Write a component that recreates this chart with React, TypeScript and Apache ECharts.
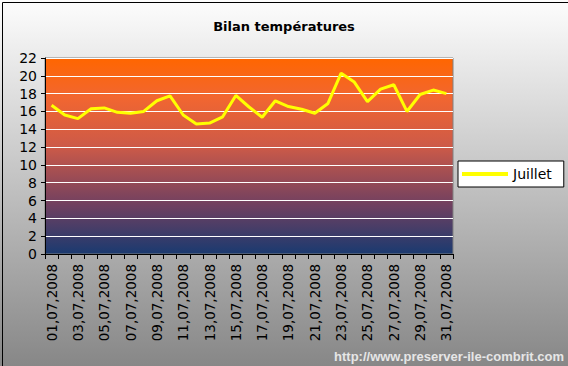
import React, { useEffect, useRef } from "react";
import * as echarts from "echarts";

const days: string[] = [
  "01,07,2008","02,07,2008","03,07,2008","04,07,2008","05,07,2008","06,07,2008","07,07,2008","08,07,2008",
  "09,07,2008","10,07,2008","11,07,2008","12,07,2008","13,07,2008","14,07,2008","15,07,2008","16,07,2008",
  "17,07,2008","18,07,2008","19,07,2008","20,07,2008","21,07,2008","22,07,2008","23,07,2008","24,07,2008",
  "25,07,2008","26,07,2008","27,07,2008","28,07,2008","29,07,2008","30,07,2008","31,07,2008",
];
const juillet: number[] = [
  16.7, 15.6, 15.2, 16.3, 16.4, 15.9, 15.8, 16.0, 17.2, 17.75, 15.6, 14.6, 14.7, 15.4, 17.8, 16.5,
  15.35, 17.2, 16.55, 16.25, 15.8, 16.9, 20.3, 19.3, 17.1, 18.5, 19.0, 16.0, 17.9, 18.4, 18.0,
];
const title = "Bilan températures";
const seriesName = "Juillet";
const watermark = "http://www.preserver-ile-combrit.com";

export default function App() {
  const ref = useRef<HTMLDivElement>(null);
  useEffect(() => {
    document.body.style.margin = "0";
    const chart = echarts.init(ref.current!, null, { renderer: "svg" });
    const font = "DejaVu Sans";
    chart.setOption({
      animation: false,
      backgroundColor: new echarts.graphic.LinearGradient(0, 0, 0, 1, [
        { offset: 0, color: "#fdfdfd" },
        { offset: 1, color: "#878787" },
      ]),
      title: {
        text: title,
        left: "center",
        top: 15,
        textStyle: { fontFamily: font, fontSize: 13, fontWeight: "bold", color: "#000" },
      },
      grid: {
        left: 45,
        right: 115,
        top: 58,
        bottom: 112,
        show: true,
        borderColor: "#808080",
        borderWidth: 1,
        backgroundColor: new echarts.graphic.LinearGradient(0, 0, 0, 1, [
          { offset: 0, color: "#ff6600" },
          { offset: 0.2, color: "#f26630" },
          { offset: 0.45, color: "#cd5a48" },
          { offset: 0.75, color: "#704060" },
          { offset: 1, color: "#1a3a70" },
        ]),
      },
      legend: {
        left: 458,
        top: 161,
        backgroundColor: "#ffffff",
        borderColor: "#000",
        borderWidth: 1,
        borderRadius: 0,
        padding: [6, 12, 6, 4],
        itemWidth: 46,
        itemHeight: 4,
        itemGap: 5,
        icon: "rect",
        textStyle: { fontFamily: font, fontSize: 14, color: "#000" },
        data: [{ name: seriesName, itemStyle: { color: "#ffff00" } }],
      },
      xAxis: {
        type: "category",
        data: days,
        boundaryGap: true,
        axisLine: { lineStyle: { color: "#000", width: 1 } },
        axisTick: { show: true, interval: 0, length: 5, lineStyle: { color: "#000" } },
        axisLabel: {
          interval: 1,
          rotate: 90,
          margin: 10,
          fontFamily: font,
          fontSize: 13.5,
          color: "#000",
        },
        splitLine: { show: false },
      },
      yAxis: {
        type: "value",
        min: 0,
        max: 22,
        interval: 2,
        axisLine: { show: true, lineStyle: { color: "#000", width: 1 } },
        axisTick: { show: true, length: 4, lineStyle: { color: "#000" } },
        axisLabel: { fontFamily: font, fontSize: 14, color: "#000", margin: 8 },
        splitLine: { show: true, lineStyle: { color: "#ffffff", width: 1 } },
      },
      series: [
        {
          name: seriesName,
          type: "line",
          data: juillet,
          symbol: "none",
          lineStyle: { color: "#ffff00", width: 3 },
          itemStyle: { color: "#ffff00" },
        },
      ],
      graphic: [
        {
          type: "text",
          right: 4,
          bottom: 3,
          style: {
            text: watermark,
            fill: "#e6e6e6",
            font: "bold 13px 'Liberation Sans'",
          },
        },
        {
          type: "rect",
          left: 0,
          top: 0,
          shape: { x: 0.5, y: 0.5, width: 567, height: 365 },
          style: { fill: "none", stroke: "#000", lineWidth: 1 },
          silent: true,
        },
      ],
    });
    return () => chart.dispose();
  }, []);
  return <div ref={ref} style={{ width: 568, height: 366 }} />;
}
